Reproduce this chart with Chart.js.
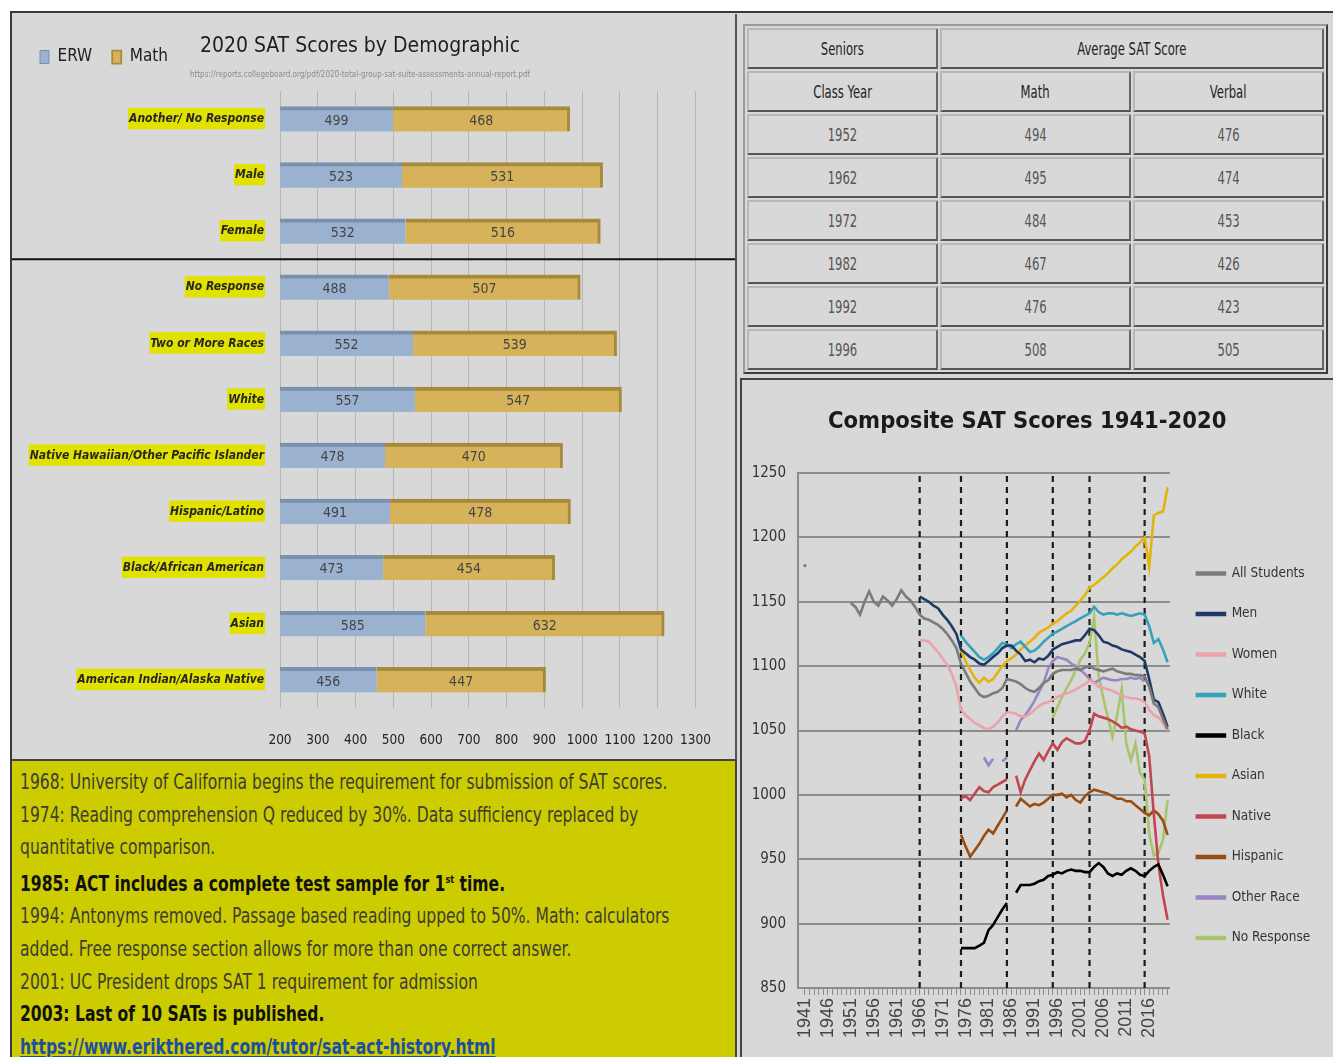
<!DOCTYPE html>
<html>
<head>
<meta charset="utf-8">
<title>SAT Scores</title>
<script src="https://cdn.jsdelivr.net/npm/chart.js@4.4.1/dist/chart.umd.min.js"></script>
<style>
  html, body { margin: 0; padding: 0; }
  body { width: 1333px; height: 1057px; position: relative; overflow: hidden; background: #fff;
         font-family: "DejaVu Sans Condensed", "DejaVu Sans", sans-serif; }
  #frame { position: absolute; left: 10px; top: 11px; width: 1323px; height: 1046px; background: #d8d8d8;
           border-top: 2px solid #3a3a3a; border-left: 2px solid #3a3a3a; box-sizing: border-box; }
  #barBox { position: absolute; left: 12px; top: 14px; width: 723px; height: 745px; border-right: 2px solid #555; }
  #barBox canvas, #lineBox canvas { display: block; }
  #notes { position: absolute; left: 12px; top: 759px; width: 725px; height: 298px; box-sizing: border-box;
           background: #cccc00; border-top: 2px solid #444; border-right: 2px solid #444; overflow: hidden; }
  #notesText { position: absolute; left: 8px; top: 5px; transform: scaleX(0.824); transform-origin: 0 0;
               font-size: 21px; line-height: 32.6px; color: #3d3d33; white-space: nowrap; }
  #notesText b { color: #111; }
  #notesText a { color: #1d4f9e; text-decoration: underline; font-weight: bold; }
  #tableBox { position: absolute; left: 743px; top: 24px; }
  #scoreTable { border-collapse: separate; border-spacing: 2px; border: 2px solid; border-color: #9a9a9a #3c3c3c #3c3c3c #9a9a9a;
                width: 585px; table-layout: fixed; }
  #scoreTable td, #scoreTable th { border: 2px solid; border-color: #b8b8b8 #666 #555 #b8b8b8; height: 37px; padding: 0;
                text-align: center; font-weight: normal; font-size: 17px; color: #555; }
  #scoreTable th { color: #222; }
  #scoreTable span { display: inline-block; transform: scaleX(0.76); }
  #lineBox { position: absolute; left: 740px; top: 378px; width: 593px; height: 679px; box-sizing: border-box;
             border-left: 2px solid #444; border-top: 2px solid #444; }
</style>
</head>
<body>
<div id="frame"></div>
<div id="barBox"><canvas id="barChart" width="723" height="745"></canvas></div>
<div id="notes"><div id="notesText">
1968: University of California begins the requirement for submission of SAT scores.<br>
1974: Reading comprehension Q reduced by 30%. Data sufficiency replaced by<br>
quantitative comparison.<br>
<b>1985: ACT includes a complete test sample for 1<sup style="font-size:11px">st</sup> time.</b><br>
1994: Antonyms removed. Passage based reading upped to 50%. Math: calculators<br>
added. Free response section allows for more than one correct answer.<br>
2001: UC President drops SAT 1 requirement for admission<br>
<b>2003: Last of 10 SATs is published.</b><br>
<a href="https://www.erikthered.com/tutor/sat-act-history.html">https://www.erikthered.com/tutor/sat-act-history.html</a>
</div></div>
<div id="tableBox"><table id="scoreTable"></table></div>
<div id="lineBox"><canvas id="lineChart" width="591" height="677"></canvas></div>
<script>
Chart.defaults.font.family = '"DejaVu Sans Condensed", "DejaVu Sans", sans-serif';
Chart.defaults.color = '#333';
Chart.defaults.animation = false;

// 2020 scores by demographic
var demographics = ['Another/ No Response', 'Male', 'Female', 'No Response', 'Two or More Races', 'White',
  'Native Hawaiian/Other Pacific Islander', 'Hispanic/Latino', 'Black/African American', 'Asian',
  'American Indian/Alaska Native'];
var erwScores = [499, 523, 532, 488, 552, 557, 478, 491, 473, 585, 456];
var mathScores = [468, 531, 516, 507, 539, 547, 470, 478, 454, 632, 447];

// seniors table
var classYears = [1952, 1962, 1972, 1982, 1992, 1996];
var avgMath = [494, 495, 484, 467, 476, 508];
var avgVerbal = [476, 474, 453, 426, 423, 505];

// composite scores, one value per year from the start year
var firstYear = 1941;
var lastYear = 2020;
var eventYears = [1966, 1975, 1985, 1995, 2003, 2015];
var allStudents = [1178, null, null, null, null, null, null, null, null, null,
  1149, 1146, 1140, 1150, 1158, 1150, 1147, 1154, 1151, 1147,
  1152, 1159, 1154, 1151, 1146, 1140, 1137, 1136, 1134, 1132,
  1129, 1125, 1120, 1114, 1102, 1095, 1088, 1083, 1078, 1076,
  1077, 1079, 1080, 1083, 1090, 1089, 1088, 1086, 1083, 1081,
  1080, 1083, 1087, 1089, 1094, 1096, 1097, 1097, 1097, 1098,
  1097, 1099, 1100, 1098, 1097, 1096, 1097, 1098, 1096, 1095,
  1094, 1094, 1093, 1093, 1092, 1084, 1071, 1068, 1059, 1051];
var men = [1154, 1152, 1150, 1147, 1145, 1140, 1136, 1131, 1125, 1113,
  1110, 1107, 1105, 1102, 1101, 1104, 1107, 1110, 1114, 1116,
  1116, 1112, 1109, 1104, 1105, 1103, 1106, 1105, 1108, 1113,
  1115, 1117, 1118, 1119, 1120, 1120, 1124, 1129, 1128, 1124,
  1119, 1118, 1116, 1115, 1113, 1112, 1111, 1109, 1107, 1104,
  1090, 1074, 1072, 1063, 1053];
var women = [1120, 1120, 1119, 1115, 1111, 1106, 1101, 1094, 1084, 1066,
  1062, 1059, 1056, 1054, 1052, 1051, 1053, 1056, 1061, 1064,
  1064, 1063, 1061, 1061, 1063, 1066, 1069, 1071, 1072, 1074,
  1076, 1078, 1079, 1080, 1082, 1084, 1086, 1089, 1087, 1084,
  1083, 1082, 1081, 1079, 1077, 1076, 1075, 1075, 1074, 1072,
  1066, 1062, 1060, 1056, 1050];
var white = [1124, 1119, 1115, 1111, 1107, 1105, 1107, 1110, 1114, 1118,
  1117, 1114, 1117, 1119, 1115, 1111, 1112, 1115, 1119, 1122,
  1125, 1127, 1129, 1131, 1133, 1135, 1137, 1139, 1141, 1146,
  1142, 1140, 1141, 1141, 1140, 1141, 1140, 1139, 1140, 1141,
  1140, 1131, 1118, 1121, 1113, 1103];
var black = [881, 881, 881, 881, 883, 885, 895, 899, 905, 911,
  916, null, 924, 930, 930, 930, 931, 933, 934, 937,
  938, 940, 939, 941, 942, 941, 941, 940, 940, 944,
  947, 944, 939, 937, 939, 938, 941, 943, 941, 938,
  937, 941, 944, 946, 938, 929];
var asian = [1112, 1104, 1097, 1091, 1087, 1091, 1088, 1090, 1095, 1100,
  1104, 1106, 1109, 1113, 1116, 1119, 1122, 1126, 1128, 1130,
  1133, 1135, 1138, 1141, 1143, 1147, 1151, 1155, 1161, 1163,
  1166, 1169, 1172, 1176, 1179, 1183, 1186, 1189, 1193, 1196,
  1200, 1177, 1217, 1219, 1220, 1239];
var native = [997, 999, 996, 1001, 1006, 1003, 1002, 1006, 1008, 1010,
  1012, null, 1015, 1002, 1012, 1019, 1026, 1032, 1027, 1034,
  1040, 1035, 1041, 1044, 1042, 1040, 1040, 1042, 1050, 1063,
  1061, 1060, 1059, 1057, 1055, 1052, 1053, 1051, 1050, 1049,
  1048, 1030, 985, 946, 922, 903];
var hispanic = [969, 960, 952, 957, 962, 968, 973, 970, 976, 982,
  988, null, 991, 997, 994, 991, 993, 992, 994, 997,
  1000, 1000, 1001, 998, 1000, 996, 994, 999, 1002, 1004,
  1003, 1002, 1001, 999, 997, 997, 995, 995, 992, 989,
  986, 984, 988, 985, 980, 969];
var otherRace = [1029, 1023, 1028, null, 1026, 1029, null, 1050, 1058, 1062,
  1067, 1073, 1080, 1087, 1098, 1104, 1107, 1106, 1105, 1102,
  1100, 1097, 1094, 1090, 1087, 1089, 1091, 1090, 1089, 1089,
  1090, 1090, 1091, 1090, 1091, 1088];
var noResponse = [1060, 1068, 1076, 1083, 1089, 1097, 1105, 1110, 1118, 1138,
  1092, 1075, 1060, 1045, 1062, 1082, 1040, 1027, 1040, 1017,
  1012, 970, 953, 955, 965, 996];

var lineSeries = [
  { label: 'All Students', start: 1941, values: allStudents, color: '#7b7b7b' },
  { label: 'Men', start: 1966, values: men, color: '#1f3a68' },
  { label: 'Women', start: 1966, values: women, color: '#eba3ab' },
  { label: 'White', start: 1975, values: white, color: '#35a2bb' },
  { label: 'Black', start: 1975, values: black, color: '#000000' },
  { label: 'Asian', start: 1975, values: asian, color: '#e2b40c' },
  { label: 'Native', start: 1975, values: native, color: '#c2464f' },
  { label: 'Hispanic', start: 1975, values: hispanic, color: '#9a4d10' },
  { label: 'Other Race', start: 1980, values: otherRace, color: '#9a84c4' },
  { label: 'No Response', start: 1995, values: noResponse, color: '#a6c56c' }
];

var toPoints = function(start, values) {
  return values.map(function(v, i) {
    return { x: start + i, y: v };
  });
};

// table rows
var cell = function(tag, text, span) {
  return '<' + tag + (span ? ' colspan="' + span + '"' : '') + '><span>' + text + '</span></' + tag + '>';
};
var html = '<tr>' + cell('th', 'Seniors') + cell('th', 'Average SAT Score', 2) + '</tr>' +
  '<tr>' + cell('th', 'Class Year') + cell('th', 'Math') + cell('th', 'Verbal') + '</tr>';
for (var r = 0; r < classYears.length; r++) {
  html += '<tr>' + cell('td', classYears[r]) + cell('td', avgMath[r]) + cell('td', avgVerbal[r]) + '</tr>';
}
document.getElementById('scoreTable').innerHTML = html;

// numbers inside the bars
var barValueLabels = {
  id: 'barValueLabels',
  afterDatasetsDraw: function(chart) {
    var ctx = chart.ctx;
    var area = chart.chartArea;
    ctx.save();
    ctx.font = '14px "DejaVu Sans Condensed", sans-serif';
    ctx.fillStyle = '#454545';
    ctx.textAlign = 'center';
    ctx.textBaseline = 'middle';
    chart.data.datasets.forEach(function(ds, di) {
      chart.getDatasetMeta(di).data.forEach(function(bar, i) {
        var left = Math.max(Math.min(bar.base, bar.x), area.left);
        var right = Math.max(bar.base, bar.x);
        ctx.fillText(ds.data[i], (left + right) / 2, bar.y + 2);
      });
    });
    ctx.restore();
  }
};

// black rule between the gender rows and the race rows
var groupDivider = {
  id: 'groupDivider',
  afterDraw: function(chart) {
    var y = chart.scales.y.getPixelForValue(2.5);
    var ctx = chart.ctx;
    ctx.save();
    ctx.strokeStyle = '#111';
    ctx.lineWidth = 2;
    ctx.beginPath();
    ctx.moveTo(0, y);
    ctx.lineTo(chart.width, y);
    ctx.stroke();
    ctx.restore();
  }
};

new Chart(document.getElementById('barChart'), {
  type: 'bar',
  data: {
    labels: demographics,
    datasets: [
      { label: 'ERW', data: erwScores, backgroundColor: '#9ab2cf', borderColor: '#7a91ad',
        borderWidth: { top: 4, right: 0, bottom: 0, left: 0 }, borderSkipped: false, barThickness: 25 },
      { label: 'Math', data: mathScores, backgroundColor: '#d6b35a', borderColor: '#a88a3c',
        borderWidth: { top: 4, right: 3, bottom: 0, left: 0 }, borderSkipped: false, barThickness: 25 }
    ]
  },
  options: {
    indexAxis: 'y',
    responsive: false,
    layout: { padding: { left: 8, right: 35, top: 0, bottom: 0 } },
    scales: {
      x: {
        stacked: true, min: 200, max: 1300,
        ticks: { stepSize: 100, padding: 24, color: '#222', font: { size: 13.5 },
                 autoSkip: false, minRotation: 0, maxRotation: 0,
                 callback: function(value) { return String(value); } },
        grid: { color: '#b6b6b6', lineWidth: 1, drawTicks: false },
        border: { display: false },
        afterFit: function(scale) { scale.height = 51; }
      },
      y: {
        stacked: true,
        grid: { display: false },
        border: { display: false },
        ticks: { padding: 8, color: '#262626', font: { size: 12, style: 'italic', weight: 'bold' },
                 showLabelBackdrop: true, backdropColor: '#e2e200',
                 backdropPadding: { top: 4, bottom: 3, left: 1, right: 1 } },
        afterFit: function(scale) { scale.width = 260; }
      }
    },
    plugins: {
      title: {
        display: true, text: '2020 SAT Scores by Demographic',
        color: '#1e1e1e', font: { size: 21, weight: 'normal' },
        padding: { top: 20.4, bottom: -31.1 }
      },
      legend: {
        position: 'top', align: 'start',
        labels: { boxWidth: 9, boxHeight: 13, padding: 20, color: '#222', font: { size: 17 } }
      },
      subtitle: {
        display: true, weight: 500,
        text: 'https://reports.collegeboard.org/pdf/2020-total-group-sat-suite-assessments-annual-report.pdf',
        color: '#8a8a8a', font: { size: 8 },
        padding: { top: -5.6, bottom: 11.5 }
      },
      tooltip: { enabled: false }
    }
  },
  plugins: [barValueLabels, groupDivider]
});

// line chart datasets
var lineDatasets = lineSeries.map(function(s) {
  return {
    label: s.label,
    data: toPoints(s.start, s.values),
    borderColor: s.color,
    backgroundColor: s.color,
    borderWidth: 2.6,
    pointRadius: function(ctx) { return s.label === 'All Students' && ctx.dataIndex === 0 ? 1.6 : 0; },
    pointBackgroundColor: s.color,
    pointBorderWidth: 0,
    tension: 0,
    spanGaps: false
  };
});
eventYears.forEach(function(yr) {
  lineDatasets.push({
    label: '',
    data: [{ x: yr, y: 850 }, { x: yr, y: 1250 }],
    borderColor: '#1c1c1c',
    borderWidth: 2.2,
    borderDash: [6, 5],
    pointRadius: 0
  });
});

new Chart(document.getElementById('lineChart'), {
  type: 'line',
  data: { datasets: lineDatasets },
  options: {
    responsive: false,
    layout: { padding: { left: 0, right: 20.5, top: 0, bottom: 20 } },
    scales: {
      x: {
        type: 'linear', min: firstYear - 1.5, max: lastYear + 0.5,
        afterBuildTicks: function(scale) {
          var ticks = [];
          for (var yr = firstYear; yr <= lastYear; yr++) ticks.push({ value: yr });
          scale.ticks = ticks;
        },
        ticks: {
          autoSkip: false, minRotation: 90, maxRotation: 90, padding: 3, color: '#444',
          font: { family: '"Liberation Sans", sans-serif', size: 18 },
          callback: function(value) { return (value - firstYear) % 5 === 0 ? String(value) : ''; }
        },
        grid: { drawOnChartArea: false, drawTicks: true, tickLength: 7, color: '#8c8c8c' },
        border: { display: true, color: '#8c8c8c', width: 2 },
        afterFit: function(scale) { scale.height = 49; }
      },
      y: {
        min: 850, max: 1250,
        ticks: { stepSize: 50, padding: 12, color: '#333', font: { size: 15 },
                 callback: function(value) { return String(value); } },
        grid: { color: '#8c8c8c', lineWidth: 2, drawTicks: false },
        border: { color: '#8c8c8c', width: 2 },
        afterFit: function(scale) { scale.width = 56; }
      }
    },
    plugins: {
      title: {
        display: true, text: 'Composite SAT Scores 1941-2020',
        color: '#1a1a1a', font: { size: 23.5, weight: 'bold' },
        padding: { top: 27.9, bottom: 36.9 }
      },
      legend: {
        position: 'right', align: 'center',
        title: { display: true, text: '', padding: { top: 0, bottom: 80 }, font: { size: 12 } },
        labels: {
          boxWidth: 28, boxHeight: 2, padding: 27, color: '#333', font: { size: 13.5 },
          filter: function(item) { return item.text !== ''; }
        }
      },
      tooltip: { enabled: false }
    }
  }
});
</script>
</body>
</html>
